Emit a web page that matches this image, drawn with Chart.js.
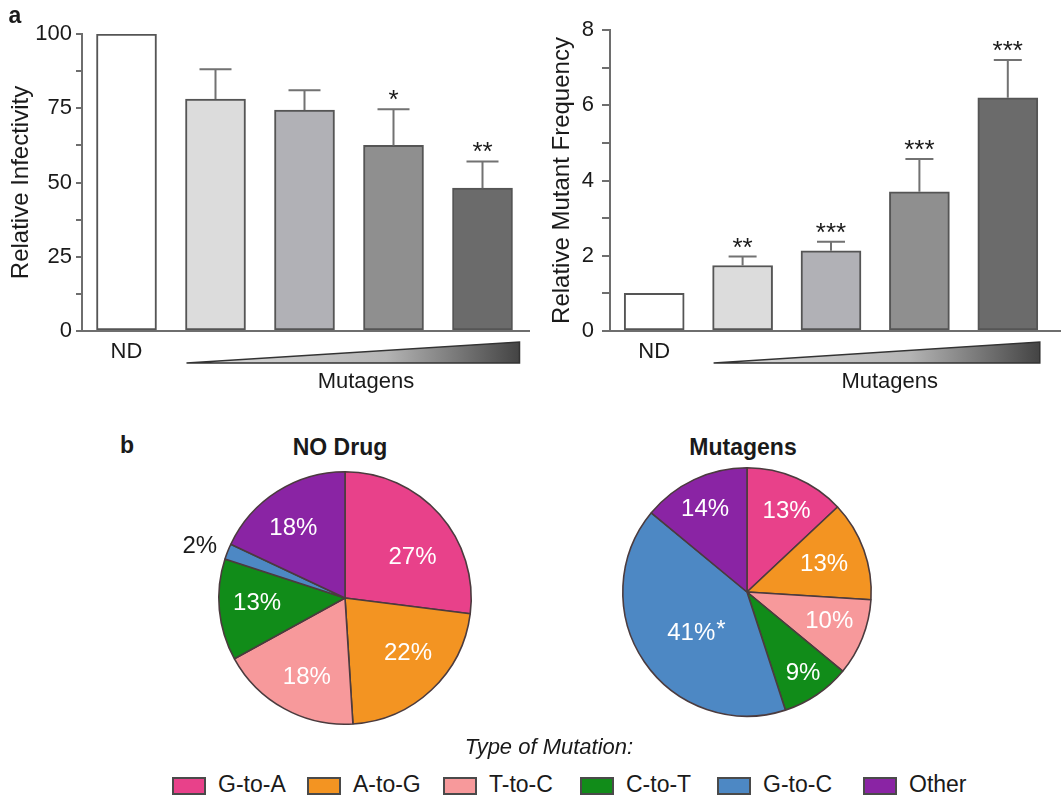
<!DOCTYPE html>
<html>
<head>
<meta charset="utf-8">
<script src="https://cdn.jsdelivr.net/npm/chart.js@4.4.1/dist/chart.umd.min.js"></script>
<style>
  html, body { margin: 0; padding: 0; background: #fff; }
  #page { position: relative; width: 1061px; height: 796px; overflow: hidden;
          font-family: "Liberation Sans", Arial, Helvetica, sans-serif; color: #1a1a1a; }
  canvas { position: absolute; }
  .txt { position: absolute; line-height: 1; white-space: nowrap; }
  .swatch { position: absolute; box-sizing: border-box; border: 2px solid #4a4a4a; }
</style>
</head>
<body>
<div id="page">
  <canvas id="infectivity" width="530" height="400" style="left:0;top:0"></canvas>
  <canvas id="mutantFreq" width="531" height="400" style="left:530px;top:0"></canvas>
  <canvas id="pieNoDrug" width="370" height="276" style="left:160px;top:460px"></canvas>
  <canvas id="pieMutagens" width="300" height="270" style="left:600px;top:460px"></canvas>
</div>
<script>
// --- data ---
const doseLabels = ['ND', '', '', '', ''];

const infectivity    = [100, 78.1, 74.4, 62.5, 48.1];
const infectivityErr = [0, 10, 6.7, 12.2, 9];
const infectivitySig = ['', '', '', '*', '**'];

const mutantFreq    = [1, 1.74, 2.13, 3.7, 6.2];
const mutantFreqErr = [0, 0.24, 0.24, 0.87, 1.0];
const mutantFreqSig = ['', '**', '***', '***', '***'];

const mutationTypes = ['G-to-A', 'A-to-G', 'T-to-C', 'C-to-T', 'G-to-C', 'Other'];
const noDrugPct     = [27, 22, 18, 13, 2, 18];
const mutagensPct   = [13, 13, 10, 9, 41, 14];
const mutagensSig   = ['', '', '', '', '*', ''];

// --- styles ---
const FONT = '"Liberation Sans", Arial, Helvetica, sans-serif';
const INK = '#1a1a1a';
const AXIS = '#6e6e6e';
const barFills = ['#ffffff', '#dcdcdc', '#b1b1b6', '#8f8f8f', '#6b6b6b'];
const mutationColors = ['#e8418a', '#f39422', '#f7999b', '#118c19', '#4d88c4', '#8a24a4'];

// hand placement tweaks for the slice labels (px)
const noDrugNudge   = [[5, 14], [6, -5], [2, 6], [-5, -2], [-2, 5], [-7, 1]];
const mutagensNudge = [[7, -5], [0, 0], [6, -1], [10, 14], [12, -5], [-7, -8]];

Chart.defaults.font.family = FONT;
Chart.defaults.color = INK;

// error bars, significance stars, baseline and the dose wedge under the bars
const barExtras = {
  id: 'barExtras',
  afterDatasetsDraw(chart, args, opts) {
    const { ctx, chartArea, scales: { y } } = chart;
    const values = chart.data.datasets[0].data;
    const bars = chart.getDatasetMeta(0).data;
    ctx.save();

    // baseline runs past the last bar
    ctx.strokeStyle = AXIS;
    ctx.lineWidth = 2;
    ctx.beginPath();
    ctx.moveTo(chartArea.left - 4, chartArea.bottom);
    ctx.lineTo(chart.width, chartArea.bottom);
    ctx.stroke();

    ctx.textAlign = 'center';
    ctx.textBaseline = 'alphabetic';
    bars.forEach((bar, i) => {
      let top = bar.y;
      if (opts.err[i]) {
        top = y.getPixelForValue(values[i] + opts.err[i]);
        ctx.strokeStyle = '#727272';
        ctx.beginPath();
        ctx.moveTo(bar.x, bar.y);
        ctx.lineTo(bar.x, top);
        ctx.moveTo(bar.x - opts.cap, top);
        ctx.lineTo(bar.x + opts.cap, top);
        ctx.stroke();
      }
      if (opts.sig[i]) {
        ctx.font = '26px ' + FONT;
        ctx.fillStyle = INK;
        ctx.fillText(opts.sig[i], bar.x, top - 1);
      }
    });

    // category label under the untreated bar
    ctx.font = '22px ' + FONT;
    ctx.fillStyle = INK;
    ctx.fillText(chart.data.labels[0], bars[0].x, 358);

    // increasing-dose wedge under the treated bars
    const first = bars[1], last = bars[bars.length - 1];
    const x0 = first.x - first.width / 2 + 1;
    const x1 = last.x + last.width / 2 + opts.wedgeExtra;
    const grad = ctx.createLinearGradient(x0, 0, x1, 0);
    grad.addColorStop(0, '#8a8a8a');
    grad.addColorStop(0.1, '#d6d6d6');
    grad.addColorStop(0.6, '#b4b4b4');
    grad.addColorStop(1, '#444444');
    ctx.beginPath();
    ctx.moveTo(x0, 363);
    ctx.lineTo(x1, 363);
    ctx.lineTo(x1, 342);
    ctx.closePath();
    ctx.fillStyle = grad;
    ctx.fill();
    ctx.strokeStyle = '#333';
    ctx.lineWidth = 1.5;
    ctx.stroke();

    ctx.font = '22px ' + FONT;
    ctx.fillStyle = INK;
    ctx.fillText('Mutagens', (x0 + x1) / 2 + 13, 388);
    ctx.restore();
  }
};

function barChart(id, values, err, sig, yOpts) {
  return new Chart(document.getElementById(id), {
    type: 'bar',
    data: {
      labels: doseLabels,
      datasets: [{
        data: values,
        backgroundColor: barFills,
        borderColor: '#555',
        borderWidth: 2,
        borderSkipped: false,
        barThickness: 60
      }]
    },
    options: {
      responsive: false,
      animation: false,
      layout: { padding: yOpts.padding },
      scales: {
        x: { display: false },
        y: {
          min: 0,
          max: yOpts.max,
          afterFit: s => { s.width = yOpts.width; },
          border: { display: true, color: AXIS, width: 2 },
          grid: { drawOnChartArea: false, drawTicks: true, tickLength: yOpts.tickLength, color: AXIS, lineWidth: 2 },
          ticks: {
            stepSize: yOpts.step,
            padding: yOpts.tickPad,
            color: INK,
            font: { size: 22 },
            callback: v => (v % yOpts.labelEvery === 0 ? v : '')
          },
          title: {
            display: true,
            text: yOpts.title,
            color: INK,
            font: { size: 24 },
            padding: { top: yOpts.titlePad, bottom: 0 }
          }
        }
      },
      plugins: {
        legend: { display: false },
        tooltip: { enabled: false },
        barExtras: { err, sig, cap: yOpts.cap, wedgeExtra: yOpts.wedgeExtra }
      }
    },
    plugins: [barExtras]
  });
}

barChart('infectivity', infectivity, infectivityErr, infectivitySig, {
  max: 100, step: 12.5, labelEvery: 25, width: 82, tickLength: 6, tickPad: 4,
  title: 'Relative Infectivity', titlePad: 7,
  padding: { left: 0, right: 3, top: 34, bottom: 69 },
  cap: 16, wedgeExtra: 7
});

barChart('mutantFreq', mutantFreq, mutantFreqErr, mutantFreqSig, {
  max: 8, step: 1, labelEvery: 2, width: 80, tickLength: 8, tickPad: 8,
  title: 'Relative Mutant Frequency', titlePad: 18,
  padding: { left: 0, right: 9, top: 30, bottom: 69 },
  cap: 14, wedgeExtra: 2
});

// percentage labels inside slices; tiny slices get a dark label outside
const sliceLabels = {
  id: 'sliceLabels',
  afterDatasetsDraw(chart, args, opts) {
    const { ctx } = chart;
    const values = chart.data.datasets[0].data;
    ctx.save();
    ctx.font = '24px ' + FONT;
    ctx.textBaseline = 'middle';
    chart.getDatasetMeta(0).data.forEach((arc, i) => {
      const { x, y, startAngle, endAngle, outerRadius } =
        arc.getProps(['x', 'y', 'startAngle', 'endAngle', 'outerRadius'], true);
      const small = values[i] < 5;
      const mid = (startAngle + endAngle) / 2;
      const r = outerRadius * (small ? 1.22 : opts.radius);
      const [dx, dy] = opts.nudge[i];
      const lx = x + Math.cos(mid) * r + dx;
      const ly = y + Math.sin(mid) * r + dy;
      const text = values[i] + '%';
      ctx.fillStyle = small ? INK : '#fff';
      ctx.textAlign = 'center';
      ctx.fillText(text, lx, ly);
      const mark = opts.marks && opts.marks[i];
      if (mark) {
        ctx.textAlign = 'left';
        ctx.fillText(mark, lx + ctx.measureText(text).width / 2 + 1, ly - 3);
      }
    });
    ctx.restore();
  }
};

function pieChart(id, values, padding, nudge, marks) {
  return new Chart(document.getElementById(id), {
    type: 'pie',
    data: {
      labels: mutationTypes,
      datasets: [{
        data: values,
        backgroundColor: mutationColors,
        borderColor: '#4b3b3e',
        borderWidth: 1.6
      }]
    },
    options: {
      responsive: false,
      animation: false,
      layout: { padding },
      plugins: {
        legend: { display: false },
        tooltip: { enabled: false },
        sliceLabels: { radius: 0.66, nudge, marks }
      }
    },
    plugins: [sliceLabels]
  });
}

pieChart('pieNoDrug', noDrugPct, { left: 58, right: 58, top: 11, bottom: 11 }, noDrugNudge);
pieChart('pieMutagens', mutagensPct, { left: 22, right: 28, top: 7, bottom: 13 }, mutagensNudge, mutagensSig);

// --- panel letters, pie titles and the shared legend ---
const page = document.getElementById('page');
function addText(str, x, base, size, extra = {}) {
  const el = document.createElement('div');
  el.className = 'txt';
  el.textContent = str;
  el.style.fontSize = size + 'px';
  el.style.top = (base - 0.847 * size) + 'px';
  el.style.left = x + 'px';
  if (extra.center) el.style.transform = 'translateX(-50%)';
  if (extra.bold) el.style.fontWeight = 'bold';
  if (extra.italic) el.style.fontStyle = 'italic';
  page.appendChild(el);
  return el;
}

addText('a', 15, 23, 23, { center: true, bold: true });
addText('b', 127, 453, 23, { center: true, bold: true });
addText('NO Drug', 340, 455, 23, { center: true, bold: true });
addText('Mutagens', 743, 455, 23, { center: true, bold: true });
addText('Type of Mutation:', 549, 755, 22, { center: true, italic: true });

const legendX = [172, 307, 443, 580, 717, 863];
mutationTypes.forEach((name, i) => {
  const sw = document.createElement('div');
  sw.className = 'swatch';
  sw.style.left = legendX[i] + 'px';
  sw.style.top = '777px';
  sw.style.width = '34px';
  sw.style.height = '18px';
  sw.style.background = mutationColors[i];
  page.appendChild(sw);
  addText(name, legendX[i] + 46, 792, 23);
});
</script>
</body>
</html>
